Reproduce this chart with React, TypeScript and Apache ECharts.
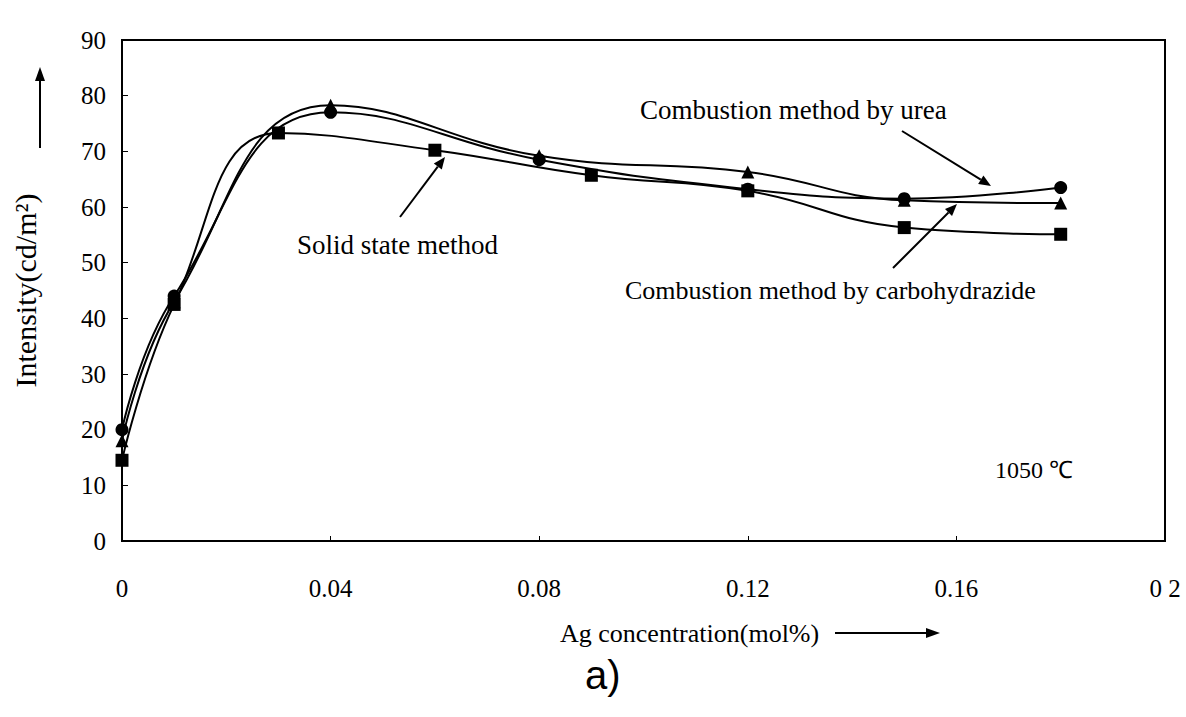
import React, { useEffect, useRef } from "react";
import * as echarts from "echarts";

// ---- data ----
const comboX = [0, 0.01, 0.04, 0.08, 0.12, 0.15, 0.18];
const ureaY = [20, 44, 77, 68.5, 63.2, 61.5, 63.5];
const carboY = [18, 43, 78.3, 69.2, 66.3, 61.2, 60.7];
const solidX = [0, 0.01, 0.03, 0.06, 0.09, 0.12, 0.15, 0.18];
const solidY = [14.5, 42.5, 73.3, 70.2, 65.7, 62.9, 56.3, 55.1];
const xTickValues = [0, 0.04, 0.08, 0.12, 0.16, 0.2];
const xTickLabels = ["0", "0.04", "0.08", "0.12", "0.16", "0 2"];
const yTickLabels = ["0", "10", "20", "30", "40", "50", "60", "70", "80", "90"];

const SERIF = "'Liberation Serif', 'Times New Roman', serif";

function pairs(xs: number[], ys: number[]) {
  return xs.map((x, i) => [x, ys[i]]);
}

function arrow(x1: number, y1: number, x2: number, y2: number, head = 12, w = 5) {
  const dx = x2 - x1;
  const dy = y2 - y1;
  const len = Math.sqrt(dx * dx + dy * dy);
  const ux = dx / len;
  const uy = dy / len;
  const bx = x2 - ux * head;
  const by = y2 - uy * head;
  const px = -uy * w;
  const py = ux * w;
  return [
    {
      type: "line",
      shape: { x1, y1, x2: bx, y2: by },
      style: { stroke: "#000", lineWidth: 2 },
    },
    {
      type: "polygon",
      shape: {
        points: [
          [x2, y2],
          [bx + px, by + py],
          [bx - px, by - py],
        ],
      },
      style: { fill: "#000" },
    },
  ];
}

export default function App() {
  const ref = useRef<HTMLDivElement>(null);
  useEffect(() => {
    if (!ref.current) return;
    const chart = echarts.init(ref.current, undefined, { renderer: "svg" });
    const lineStyle = { color: "#000", width: 2 };
    const itemStyle = { color: "#000" };
    const smooth = 0.45;
    chart.setOption({
      animation: false,
      backgroundColor: "#fff",
      grid: {
        left: 122,
        right: 21,
        top: 40,
        bottom: 176,
        show: true,
        borderColor: "#000",
        borderWidth: 2,
        backgroundColor: "transparent",
      },
      xAxis: {
        type: "value",
        min: 0,
        max: 0.2,
        interval: 0.04,
        axisLine: { show: true, lineStyle: { color: "#000", width: 2 } },
        axisTick: { show: true, inside: true, length: 5, lineStyle: { color: "#000" } },
        splitLine: { show: false },
        axisLabel: {
          color: "#000",
          fontFamily: SERIF,
          fontSize: 25,
          margin: 35,
          formatter: (v: number) => {
            const i = xTickValues.findIndex((t) => Math.abs(t - v) < 1e-9);
            return i >= 0 ? xTickLabels[i] : "";
          },
        },
      },
      yAxis: {
        type: "value",
        min: 0,
        max: 90,
        interval: 10,
        name: "Intensity(cd/m²)",
        nameLocation: "middle",
        nameGap: 82,
        nameTextStyle: { color: "#000", fontFamily: SERIF, fontSize: 30 },
        axisLine: { show: true, lineStyle: { color: "#000", width: 2 } },
        axisTick: { show: true, inside: true, length: 6, lineStyle: { color: "#000" } },
        splitLine: { show: false },
        axisLabel: {
          color: "#000",
          fontFamily: SERIF,
          fontSize: 25,
          margin: 16,
          formatter: (v: number) => yTickLabels[Math.round(v / 10)] ?? "",
        },
      },
      series: [
        {
          name: "Solid state method",
          type: "line",
          smooth,
          data: pairs(solidX, solidY),
          symbol: "rect",
          symbolSize: 13,
          lineStyle,
          itemStyle,
        },
        {
          name: "Combustion method by carbohydrazide",
          type: "line",
          smooth,
          data: pairs(comboX, carboY),
          symbol: "triangle",
          symbolSize: 13,
          lineStyle,
          itemStyle,
        },
        {
          name: "Combustion method by urea",
          type: "line",
          smooth,
          data: pairs(comboX, ureaY),
          symbol: "circle",
          symbolSize: 13,
          lineStyle,
          itemStyle,
        },
      ],
      graphic: [
        {
          type: "text",
          left: 640,
          top: 96,
          style: { text: "Combustion method by urea", font: `27px ${SERIF}`, fill: "#000" },
        },
        {
          type: "text",
          left: 297,
          top: 231,
          style: { text: "Solid state method", font: `27px ${SERIF}`, fill: "#000" },
        },
        {
          type: "text",
          left: 625,
          top: 277,
          style: {
            text: "Combustion method by carbohydrazide",
            font: `26px ${SERIF}`,
            fill: "#000",
          },
        },
        {
          type: "text",
          left: 995,
          top: 458,
          style: { text: "1050 ℃", font: `24px ${SERIF}`, fill: "#000" },
        },
        {
          type: "text",
          left: 560,
          top: 620,
          style: { text: "Ag concentration(mol%)", font: `26px ${SERIF}`, fill: "#000" },
        },
        {
          type: "text",
          left: 585,
          top: 655,
          style: { text: "a)", font: `40px 'Liberation Sans', Arial, sans-serif`, fill: "#000" },
        },
        ...arrow(902, 131, 991, 186),
        ...arrow(893, 268, 957, 204),
        ...arrow(400, 217, 445, 157),
        ...arrow(40, 148, 40, 67, 14, 5),
        ...arrow(835, 633, 940, 633, 14, 5),
      ],
    });
    return () => chart.dispose();
  }, []);
  return (
    <div
      ref={ref}
      style={{ position: "absolute", left: 0, top: 0, width: 1186, height: 717, background: "#fff" }}
    />
  );
}
